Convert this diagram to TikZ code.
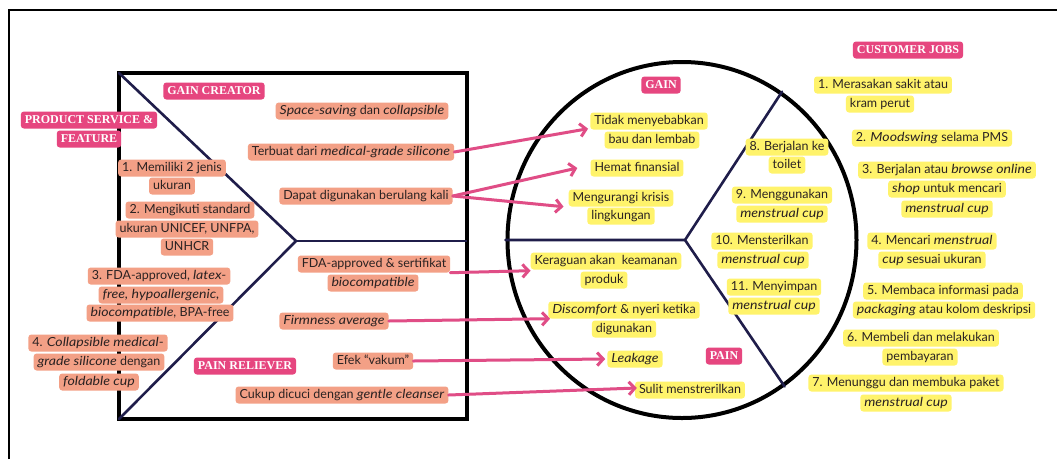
\documentclass[tikz,border=0pt]{standalone}
\usepackage{fontspec}
\setmainfont{Lato}[ItalicFeatures={FakeStretch=1.13}]
\newfontfamily\labfont{Liberation Serif}
\usetikzlibrary{arrows.meta,shapes.geometric}
\definecolor{pinklab}{HTML}{E6467F}
\definecolor{salmon}{HTML}{F3A086}
\definecolor{yell}{HTML}{FFF36B}
\definecolor{arrowpink}{HTML}{E04D86}
\definecolor{navy}{HTML}{1F1D4A}
\definecolor{txt}{HTML}{2A2222}
\tikzset{
  hl/.style={rounded corners=3pt, inner xsep=4pt, inner ysep=0pt, minimum height=17pt,
    text height=9.5pt, text depth=2.5pt, font=\fontsize{12.5}{14}\selectfont, text=txt},
  sal/.style={hl, fill=salmon},
  yel/.style={hl, fill=yell},
  lab/.style={rounded corners=3pt, fill=pinklab, text=white, inner xsep=4pt, inner ysep=0pt,
    minimum height=17pt, text height=9pt, text depth=2pt, font=\labfont\bfseries\fontsize{12}{14}\selectfont},
  navyline/.style={draw=navy, line width=2.6pt, line cap=round, line join=round},
  conn/.style={draw=arrowpink, line width=3pt, line cap=round,
    -{Straight Barb[length=6pt,width=13pt,line width=3pt]}},
}
\begin{document}
\begin{tikzpicture}[x=1pt,y=-1pt]
\useasboundingbox (0,0) rectangle (1057,459);
\fill[white] (0,0) rectangle (1057,459);
% outer frame
\draw[line width=1.6pt] (9,459) -- (9,10) -- (1057,10);
% square
\coordinate (sqTL) at (119,73);
\coordinate (sqBR) at (467,419);
\coordinate (sqBL) at (119,419);
\coordinate (sqJ) at (296,241);
\coordinate (sqR) at (467,241);
\draw[line width=4.5pt] (sqTL) rectangle (sqBR);
\draw[navyline] (sqTL) -- (sqJ) -- (sqBL);
\draw[navyline, line cap=butt] (sqJ) -- (sqR);
% circle
\node[ellipse, draw, line width=4pt, minimum width=349pt, minimum height=356pt, inner sep=0pt] (circ) at (682,240) {};
\coordinate (cJ) at (685,240);
\draw[navyline] (circ.west) -- (cJ) -- (circ.56);
\draw[navyline] (cJ) -- (circ.-55);

% pink labels
\node[lab] (gaincreator) at (214,91) {GAIN CREATOR};
\node[lab] (psf1) at (89,120) {PRODUCT SERVICE \&};
\node[lab] (psf2) at (89,139) {FEATURE};
\node[lab] (painrel) at (245,366) {PAIN RELIEVER};
\node[lab] (gain) at (661,85) {GAIN};
\node[lab] (pain) at (724,356) {PAIN};
\node[lab] (cjobs) at (908,50) {CUSTOMER JOBS};

% product & service features
\node[sal] (f1a) at (172,168) {1. Memiliki 2 jenis};
\node[sal] (f1b) at (172,186) {ukuran};
\node[sal] (f2a) at (190,210) {2. Mengikuti standard};
\node[sal] (f2b) at (187,229) {ukuran UNICEF, UNFPA,};
\node[sal] (f2c) at (187,247) {UNHCR};
\node[sal] (f3a) at (159,276) {3. FDA-approved, \textit{latex-}};
\node[sal] (f3b) at (161,295) {\textit{free, hypoallergenic,}};
\node[sal] (f3c) at (160,313) {\textit{biocompatible}, BPA-free};
\node[sal] (f4a) at (98,343) {4. \textit{Collapsible medical-}};
\node[sal] (f4b) at (99,362) {\textit{grade silicone} dengan};
\node[sal] (f4c) at (99,382) {\textit{foldable cup}};

% gain creators
\node[sal] (space) at (362,111) {\textit{Space-saving} dan \textit{collapsible}};
\node[sal] (terbuat) at (351,152) {Terbuat dari \textit{medical-grade silicone}};
\node[sal] (dapat) at (366,196) {Dapat digunakan berulang kali};
% pain relievers
\node[sal] (fdaa) at (374,264) {FDA-approved \& sertifikat};
\node[sal] (fdab) at (373,283) {\textit{biocompatible}};
\node[sal] (firm) at (334,321) {\textit{Firmness average}};
\node[sal] (efek) at (373,361) {Efek “vakum”};
\node[sal] (cukup) at (342,395) {Cukup dicuci dengan \textit{gentle cleanser}};

% gains
\node[yel] (tidaka) at (649,121) {Tidak menyebabkan};
\node[yel] (tidakb) at (652,140) {bau dan lembab};
\node[yel] (hemat) at (637,168) {Hemat finansial};
\node[yel] (menga) at (621,198) {Mengurangi krisis};
\node[yel] (mengb) at (621,216) {lingkungan};
% pains
\node[yel] (kera) at (606,261) {Keraguan akan\ \ keamanan};
\node[yel] (kerb) at (604,280) {produk};
\node[yel] (disca) at (624,310) {\textit{Discomfort} \& nyeri ketika};
\node[yel] (discb) at (624,329) {digunakan};
\node[yel] (leak) at (635,359) {\textit{Leakage}};
\node[yel] (sulit) at (690,390) {Sulit menstrerilkan};
% jobs inside circle
\node[yel] (j8a) at (787,147) {8. Berjalan ke};
\node[yel] (j8b) at (787,165) {toilet};
\node[yel] (j9a) at (782,195) {9. Menggunakan};
\node[yel] (j9b) at (782,214) {\textit{menstrual cup}};
\node[yel] (j10a) at (762,241) {10. Mensterilkan};
\node[yel] (j10b) at (763,260) {\textit{menstrual cup}};
\node[yel] (j11a) at (774,287) {11. Menyimpan};
\node[yel] (j11b) at (774,306) {\textit{menstrual cup}};
% customer jobs
\node[yel] (j1a) at (883,85) {1. Merasakan sakit atau};
\node[yel] (j1b) at (880,104) {kram perut};
\node[yel] (j2) at (932,138) {2. \textit{Moodswing} selama PMS};
\node[yel] (j3a) at (947,170) {3. Berjalan atau \textit{browse online}};
\node[yel] (j3b) at (947,189) {\textit{shop} untuk mencari};
\node[yel] (j3c) at (947,209) {\textit{menstrual cup}};
\node[yel] (j4a) at (932,241) {4. Mencari \textit{menstrual}};
\node[yel] (j4b) at (932,260) {\textit{cup} sesuai ukuran};
\node[yel] (j5a) at (943,291) {5. Membaca informasi pada};
\node[yel] (j5b) at (944,310) {\textit{packaging} atau kolom deskripsi};
\node[yel] (j6a) at (921,338) {6. Membeli dan melakukan};
\node[yel] (j6b) at (920,357) {pembayaran};
\node[yel] (j7a) at (906,383) {7. Menunggu dan membuka paket};
\node[yel] (j7b) at (906,403) {\textit{menstrual cup}};

% connectors
\draw[conn] (terbuat.east) -- ([xshift=-2pt,yshift=1pt]tidaka.south west);
\draw[conn] (dapat.east) -- ([xshift=-13pt]hemat.west);
\draw[conn] (dapat.east) -- ([xshift=-5pt]menga.south west);
\draw[conn] (fdaa.south east) -- ([yshift=-1pt]kera.south west);
\draw[conn] (firm.east) -- ([xshift=2pt]disca.south west);
\draw[conn] (efek.east) -- ([xshift=-2pt]leak.west);
\draw[conn] (cukup.east) -- ([xshift=2pt,yshift=2pt]sulit.west);
\end{tikzpicture}
\end{document}
